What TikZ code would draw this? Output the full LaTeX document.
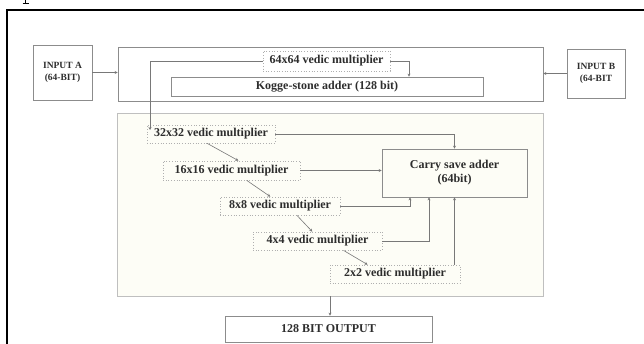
\documentclass[tikz,border=0pt]{standalone}
\usepackage{fontspec}
\setmainfont{Liberation Serif}
\usetikzlibrary{arrows.meta,calc}
\definecolor{linegray}{RGB}{120,120,120}
\definecolor{boxgray}{RGB}{140,140,140}
\definecolor{dotgray}{RGB}{175,175,175}
\definecolor{cream}{RGB}{253,253,246}
\definecolor{txt}{RGB}{45,45,45}
\tikzset{
  solidbox/.style={draw=boxgray, line width=0.7pt, inner sep=0pt, text=txt, font=\bfseries\fontsize{12}{14}\selectfont, align=center},
  dotbox/.style={draw=dotgray, dotted, line width=0.7pt, inner sep=0pt, text=txt, font=\bfseries\fontsize{12}{14}\selectfont, align=center},
  inbox/.style={draw=boxgray, line width=0.7pt, inner sep=0pt, text=txt, font=\bfseries\fontsize{9.5}{12}\selectfont, align=center},
  conn/.style={draw=linegray, line width=0.6pt, -{Stealth[length=3pt,width=3pt]}},
}
\begin{document}
\begin{tikzpicture}[x=1pt,y=-1pt]
\useasboundingbox (0,0) rectangle (644,344);
\fill[white] (0,0) rectangle (644,344);
% descender of a letter cut off at the top edge
\draw[line width=1.6pt] (25.5,0) -- (25.5,4);
\draw[line width=1pt] (22.5,4) -- (29,4);
% page frame
\draw[line width=2pt] (7,344) -- (7,10) -- (644,10);

% big containers
\node[solidbox, minimum width=425pt, minimum height=54pt] (top) at (330.5,74) {};
\node[draw=dotgray!80, fill=cream, line width=0.7pt, minimum width=426pt, minimum height=183pt, inner sep=0pt] (lower) at (330,204.5) {};

% inputs
\node[inbox, minimum width=59pt, minimum height=55pt] (ina) at (62.5,72.5) {INPUT A\\(64-BIT)};
\node[inbox, minimum width=58pt, minimum height=49pt] (inb) at (596,73.5) {INPUT B\\(64-BIT};

% top blocks
\node[dotbox, minimum width=127pt, minimum height=20pt] (m64) at (326.5,61) {64x64 vedic multiplier};
\node[solidbox, minimum width=312pt, minimum height=19pt] (kog) at (327,86.5) {Kogge-stone adder (128 bit)};

% lower blocks
\node[dotbox, minimum width=128pt, minimum height=18pt] (m32) at (211,134) {32x32 vedic multiplier};
\node[dotbox, minimum width=137pt, minimum height=19pt] (m16) at (231.5,170.5) {16x16 vedic multiplier};
\node[dotbox, minimum width=120pt, minimum height=18pt] (m8) at (280,206) {8x8 vedic multiplier};
\node[dotbox, minimum width=129pt, minimum height=18pt] (m4) at (317.5,241) {4x4 vedic multiplier};
\node[dotbox, minimum width=130pt, minimum height=18pt] (m2) at (395,274) {2x2 vedic multiplier};
\node[solidbox, minimum width=145pt, minimum height=48pt] (csa) at (454.5,173) {Carry save adder\\(64bit)};

\node[solidbox, minimum width=207pt, minimum height=26pt] (out) at (328.5,329) {128 BIT OUTPUT};

% connectors
\draw[conn] (ina.east) -- (ina.east -| top.west);
\draw[conn] (inb.west) -- (inb.west -| top.east);
\coordinate (kx) at (409,0);
\draw[conn] (m64.east) -| (kx |- kog.north);
\coordinate (lx) at (150,130);
\draw[conn] (m64.west) -| (lx);

\draw[conn] (m32.east) -| (csa.north);
\draw[conn] (m16.east) -- (m16.east -| csa.west);
\coordinate (c8) at (410,0);
\coordinate (c4) at (429,0);
\draw[conn] (m8.east) -| (c8 |- csa.south);
\draw[conn] (m4.east) -| (c4 |- csa.south);
\draw[conn] (m2.north -| csa.south) -- (csa.south);

\draw[conn] ($(m32.south west)!0.47!(m32.south east)$) -- ($(m16.north west)!0.55!(m16.north east)$);
\draw[conn] ($(m16.south west)!0.61!(m16.south east)$) -- ($(m8.north west)!0.42!(m8.north east)$);
\draw[conn] ($(m8.south west)!0.64!(m8.south east)$) -- ($(m4.north west)!0.46!(m4.north east)$);
\draw[conn] ($(m4.south west)!0.70!(m4.south east)$) -- ($(m2.north west)!0.29!(m2.north east)$);

\draw[conn] (lower.south) -- (lower.south |- out.north);
\end{tikzpicture}
\end{document}
